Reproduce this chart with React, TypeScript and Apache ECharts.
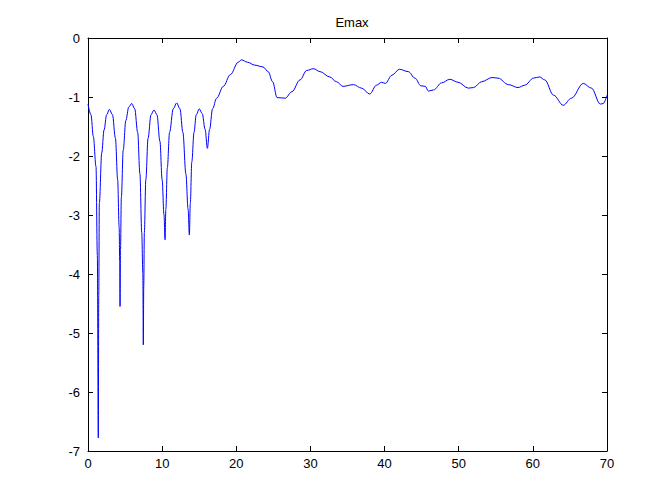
import React, { useEffect, useRef } from "react";
import * as echarts from "echarts";

const title = "Emax";
const xTicks = [0, 10, 20, 30, 40, 50, 60, 70];
const yTicks = [-7, -6, -5, -4, -3, -2, -1, 0];

const xs = [
  0, 0.4, 0.72, 1.08, 1.26, 1.39, 1.45, 1.53, 1.85, 2.16, 2.52, 2.88,
  3.3, 3.7, 4.0, 4.2, 4.28, 4.32, 4.38, 4.5, 4.75, 5.1, 5.5, 5.9,
  6.3, 6.7, 7.0, 7.25, 7.4, 7.46, 7.52, 7.6, 7.8, 8.1, 8.5, 8.9,
  9.3, 9.7, 10.0, 10.25, 10.39, 10.5, 10.7, 11.0, 11.5, 11.96,
  12.4, 12.8, 13.2, 13.5, 13.67, 13.8, 14.0, 14.3, 14.6, 15.0,
  15.4, 15.8, 16.1, 16.4, 16.8, 17.35, 18.25, 19.2, 20.27, 20.7,
  21.5, 22.5, 23.6, 24.3, 24.9, 25.5, 26.6, 27.5, 28.6, 29.5, 30.4,
  31.3, 32.6, 33.5, 34.4, 35.8, 36.9, 38.0, 38.9, 39.6, 40.1, 41.0,
  42.0, 43.2, 44.1, 44.9, 45.5, 45.9, 46.6, 47.7, 48.8, 49.9, 51.3,
  52.0, 53.1, 54.5, 55.3, 56.7, 58.0, 58.9, 60.1, 60.9, 61.6, 62.8,
  64.1, 65.2, 66.8, 67.9, 69.1, 69.5, 70.0,
];
const ys = [
  -1.12, -1.3, -1.67, -2.18, -3.68, -6.78, -4.36, -2.8, -1.95, -1.56, -1.3, -1.21,
  -1.3, -1.7, -2.4, -3.2, -3.8, -4.55, -3.6, -2.7, -1.9, -1.4, -1.17, -1.11,
  -1.2, -1.6, -2.3, -3.3, -4.0, -5.2, -4.2, -3.3, -2.4, -1.7, -1.3, -1.22,
  -1.3, -1.75, -2.4, -3.0, -3.42, -2.9, -2.2, -1.6, -1.2, -1.1,
  -1.2, -1.6, -2.3, -2.9, -3.34, -2.8, -2.1, -1.6, -1.3, -1.2,
  -1.28, -1.55, -1.87, -1.55, -1.2, -1.02, -0.82, -0.62, -0.41, -0.37,
  -0.41, -0.46, -0.49, -0.57, -0.74, -1.01, -1.02, -0.91, -0.71, -0.55, -0.52,
  -0.57, -0.66, -0.74, -0.82, -0.79, -0.85, -0.95, -0.8, -0.75, -0.77, -0.63,
  -0.53, -0.57, -0.68, -0.81, -0.82, -0.9, -0.88, -0.76, -0.7, -0.75, -0.85,
  -0.84, -0.74, -0.67, -0.68, -0.79, -0.84, -0.8, -0.68, -0.66, -0.71, -0.97,
  -1.14, -1.02, -0.77, -0.85, -1.12, -1.11, -0.97,
];

const font = "Liberation Sans, Arial, sans-serif";
const mkLine = () => ({ show: true, onZero: false, lineStyle: { color: "#000", width: 1 } });
const mkTick = () => ({ show: true, inside: true, length: 5, lineStyle: { color: "#000", width: 1 } });

export default function App() {
  const ref = useRef<HTMLDivElement>(null);
  useEffect(() => {
    if (!ref.current) return;
    const chart = echarts.init(ref.current, null, { renderer: "svg" });
    chart.setOption({
      animation: false,
      backgroundColor: "#fff",
      title: {
        text: title,
        left: 347,
        top: 11,
        textAlign: "center",
        textStyle: { color: "#000", fontSize: 13, fontWeight: "normal", fontFamily: font },
      },
      grid: { left: 88, right: 65, top: 38, bottom: 53, containLabel: false },
      xAxis: [
        {
          type: "value",
          min: xTicks[0],
          max: xTicks[xTicks.length - 1],
          interval: 10,
          position: "bottom",
          axisLine: mkLine(),
          axisTick: mkTick(),
          splitLine: { show: false },
          axisLabel: { color: "#000", fontSize: 13, fontFamily: font, margin: 6 },
        },
        {
          type: "value",
          min: xTicks[0],
          max: xTicks[xTicks.length - 1],
          interval: 10,
          position: "top",
          axisLine: mkLine(),
          axisTick: mkTick(),
          splitLine: { show: false },
          axisLabel: { show: false },
        },
      ],
      yAxis: [
        {
          type: "value",
          min: yTicks[0],
          max: yTicks[yTicks.length - 1],
          interval: 1,
          position: "left",
          axisLine: mkLine(),
          axisTick: mkTick(),
          splitLine: { show: false },
          axisLabel: { color: "#000", fontSize: 13, fontFamily: font, margin: 8 },
        },
        {
          type: "value",
          min: yTicks[0],
          max: yTicks[yTicks.length - 1],
          interval: 1,
          position: "right",
          axisLine: mkLine(),
          axisTick: mkTick(),
          splitLine: { show: false },
          axisLabel: { show: false },
        },
      ],
      series: [
        {
          type: "line",
          xAxisIndex: 0,
          yAxisIndex: 0,
          showSymbol: false,
          symbol: "none",
          smooth: 0.35,
          smoothMonotone: "x",
          lineStyle: { color: "#0000ff", width: 1 },
          data: xs.map((x, i) => [x, ys[i]]),
        },
      ],
    });
    return () => chart.dispose();
  }, []);
  return <div ref={ref} style={{ width: 672, height: 504, position: "absolute", left: 0, top: 0 }} />;
}
